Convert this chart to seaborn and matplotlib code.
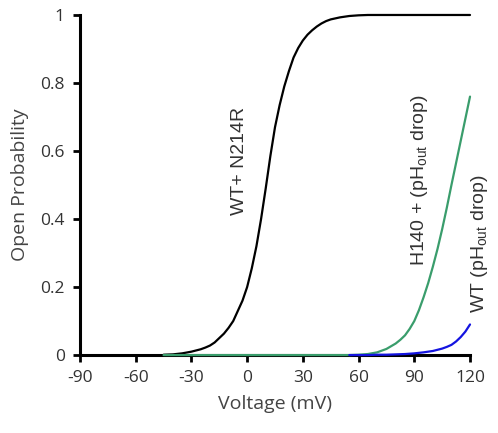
import numpy as np
import pandas as pd
import matplotlib
matplotlib.use('Agg')
import matplotlib.pyplot as plt
import seaborn as sns

# 数据
v_black = [-45, -40, -35, -30, -25, -22.5, -20, -17.5, -15, -12.5, -10, -7.5, -5,
           -2.5, 0, 2.5, 5, 7.5, 10, 12.5, 15, 17.5, 20, 22.5, 25, 27.5, 30,
           32.5, 35, 37.5, 40, 42.5, 45, 50, 55, 60, 65, 70, 80, 90, 100, 110, 120]
p_black = [0.001, 0.002, 0.005, 0.010, 0.017, 0.022, 0.028, 0.037, 0.050, 0.063,
           0.080, 0.100, 0.130, 0.160, 0.200, 0.255, 0.320, 0.400, 0.490, 0.585,
           0.670, 0.735, 0.790, 0.835, 0.875, 0.903, 0.925, 0.942, 0.955, 0.966,
           0.975, 0.982, 0.987, 0.993, 0.997, 0.999, 1.0, 1.0, 1.0, 1.0, 1.0,
           1.0, 1.0]

v_green = [-45, 0, 55, 60, 65, 70, 75, 80, 82.5, 85, 87.5, 90, 92.5, 95, 97.5,
           100, 102.5, 105, 107.5, 110, 112.5, 115, 117.5, 120]
p_green = [0.0, 0.0, 0.0, 0.001, 0.003, 0.008, 0.018, 0.034, 0.045, 0.058, 0.077,
           0.100, 0.132, 0.170, 0.212, 0.260, 0.312, 0.370, 0.433, 0.500, 0.565,
           0.630, 0.695, 0.760]

v_blue = [55, 60, 65, 70, 75, 80, 85, 90, 95, 100, 105, 107.5, 110, 112.5, 115,
          117.5, 120]
p_blue = [0.0, 0.0, 0.0, 0.001, 0.001, 0.002, 0.003, 0.005, 0.008, 0.012,
          0.019, 0.024, 0.030, 0.040, 0.053, 0.069, 0.090]

x_ticks = [-90, -60, -30, 0, 30, 60, 90, 120]
y_ticks = [0, 0.2, 0.4, 0.6, 0.8, 1]
y_ticklabels = ['0', '0.2', '0.4', '0.6', '0.8', '1']

labels = ['WT+ N214R', 'H140 + (pH$_{\\mathrm{out}}$ drop)', 'WT (pH$_{\\mathrm{out}}$ drop)']
label_pos = [(-4, 0.57), (92.8, 0.513), (125, 0.327)]

sns.set_style('ticks')
plt.rcParams['font.family'] = ['Open Sans', 'DejaVu Sans']
plt.rcParams['mathtext.fontset'] = 'custom'
plt.rcParams['mathtext.rm'] = 'Liberation Sans'
plt.rcParams['mathtext.it'] = 'Liberation Sans:italic'

fig = plt.figure(figsize=(4.98, 4.33), dpi=100)
ax = fig.add_axes([0.1606, 0.180, 0.7832, 0.7854])

df_black = pd.DataFrame({'v': v_black, 'p': p_black})
df_green = pd.DataFrame({'v': v_green, 'p': p_green})
df_blue = pd.DataFrame({'v': v_blue, 'p': p_blue})

for d, c in [(df_black, 'black'), (df_green, '#3a9d6c'), (df_blue, '#1414e0')]:
    sns.lineplot(data=d, x='v', y='p', color=c, lw=1.6, ax=ax,
                 clip_on=False, zorder=5)

ax.set_xlim(-90, 120)
ax.set_ylim(0, 1)
ax.set_xticks(x_ticks)
ax.set_xticklabels([str(t) for t in x_ticks])
ax.set_yticks(y_ticks)
ax.set_yticklabels(y_ticklabels)
ax.tick_params(axis='both', direction='out', length=5, width=2, color='black',
               labelsize=12.5, labelcolor='#333333', pad=6)

sns.despine(ax=ax)
for s in ['left', 'bottom']:
    ax.spines[s].set_linewidth(2.2)
    ax.spines[s].set_color('black')
    ax.spines[s].set_zorder(2)

ax.set_xlabel('Voltage (mV)', fontsize=14, color='#444444', labelpad=6)
ax.set_ylabel('Open Probability', fontsize=14, color='#444444', labelpad=8)

for txt, (x, y) in zip(labels, label_pos):
    ax.text(x, y, txt, rotation=90, ha='center', va='center', fontsize=14,
            color='#333333', family=['Liberation Sans', 'DejaVu Sans'],
            clip_on=False)

fig.savefig('out.png', dpi=100)
plt.close(fig)
